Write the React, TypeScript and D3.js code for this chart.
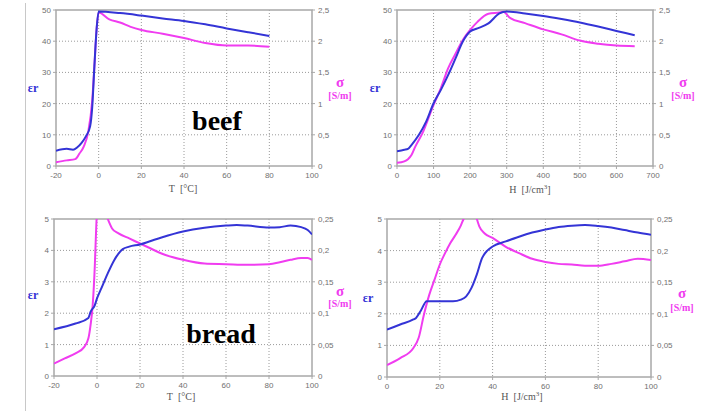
import * as d3 from 'd3';

// beef, temperature axis
const beefT = [-20, -15, -12, -10, -8, -6, -4, -3, -2, -1, 0, 10, 20, 30, 40, 50, 60, 70, 80];
const beefTEps = [4.9, 5.5, 5.2, 6, 7.4, 9.5, 12.7, 19, 32, 43.6, 49.5, 49, 48.2, 47.3, 46.5, 45.4, 44.1, 42.9, 41.7];
const beefTSigT = [-20, -15, -11, -9, -7, -5, -3, -2, -1, 0, 5, 10, 15, 20, 30, 40, 50, 60, 70, 80];
const beefTSig = [0.06, 0.09, 0.11, 0.2, 0.31, 0.53, 1.06, 1.6, 2.18, 2.46, 2.35, 2.3, 2.23, 2.18, 2.12, 2.05, 1.97, 1.93, 1.93, 1.91];

// beef, enthalpy axis
const beefH = [0, 20, 30, 40, 60, 80, 100, 120, 140, 160, 180, 200, 220, 250, 280, 300, 350, 400, 450, 500, 550, 600, 650];
const beefHEps = [4.7, 5.2, 5.5, 6.8, 10, 14.3, 20.1, 24.4, 29.2, 34.5, 39.9, 43.1, 44.1, 45.7, 48.9, 49.5, 48.9, 48.1, 47.1, 46, 44.7, 43.3, 41.9];
const beefHSigH = [0, 20, 30, 40, 50, 70, 100, 120, 140, 160, 180, 200, 220, 250, 280, 290, 310, 350, 400, 450, 500, 550, 600, 650];
const beefHSig = [0.05, 0.075, 0.11, 0.18, 0.31, 0.53, 0.98, 1.25, 1.57, 1.8, 2.02, 2.18, 2.31, 2.44, 2.46, 2.47, 2.37, 2.29, 2.19, 2.11, 2.01, 1.96, 1.93, 1.92];

// bread, temperature axis
const breadT = [-20, -10, -4, -3, -1, 0, 2, 5, 8, 10, 12, 15, 20, 25, 30, 40, 50, 60, 65, 70, 80, 85, 90, 95, 98, 100];
const breadTEps = [1.49, 1.67, 1.85, 2.04, 2.26, 2.47, 2.79, 3.27, 3.69, 3.9, 4.04, 4.12, 4.19, 4.3, 4.41, 4.6, 4.72, 4.79, 4.81, 4.79, 4.73, 4.74, 4.79, 4.74, 4.65, 4.51];
const breadTSigT = [-20, -15, -10, -6, -4, -3, -2, -1, -0.5, 0, 2, 5, 7, 10, 15, 20, 25, 30, 40, 50, 60, 70, 80, 85, 90, 95, 98, 100];
const breadTSig = [0.0197, 0.028, 0.036, 0.046, 0.06, 0.081, 0.113, 0.177, 0.224, 0.26, 0.28, 0.25, 0.235, 0.227, 0.219, 0.211, 0.203, 0.195, 0.185, 0.179, 0.178, 0.177, 0.178, 0.181, 0.185, 0.188, 0.188, 0.185];

// bread, enthalpy axis
const breadH = [0, 5, 10, 11, 13, 15, 20, 25, 28, 30, 32, 34, 36, 38, 40, 45, 50, 55, 60, 65, 70, 75, 80, 85, 90, 95, 100];
const breadHEps = [1.5, 1.66, 1.82, 1.87, 2.13, 2.4, 2.4, 2.4, 2.45, 2.55, 2.82, 3.24, 3.76, 4, 4.13, 4.29, 4.44, 4.57, 4.67, 4.75, 4.79, 4.81, 4.78, 4.73, 4.65, 4.57, 4.5];
const breadHSigH = [0, 5, 10, 12, 14, 16, 18, 20, 22, 24, 26, 28, 29, 31.5, 34, 35, 37, 40, 45, 50, 55, 60, 65, 70, 75, 80, 85, 90, 95, 100];
const breadHSig = [0.019, 0.03, 0.046, 0.062, 0.099, 0.13, 0.154, 0.178, 0.196, 0.212, 0.225, 0.24, 0.25, 0.27, 0.25, 0.238, 0.227, 0.22, 0.206, 0.196, 0.187, 0.182, 0.179, 0.178, 0.176, 0.176, 0.179, 0.183, 0.187, 0.185];

const beefTTicks = [-20, 0, 20, 40, 60, 80, 100];
const beefHTicks = [0, 100, 200, 300, 400, 500, 600, 700];
const breadTTicks = [-20, 0, 20, 40, 60, 80, 100];
const breadHTicks = [0, 20, 40, 60, 80, 100];
const beefEpsTicks = [0, 10, 20, 30, 40, 50];
const beefSigTicks = [0, 0.5, 1, 1.5, 2, 2.5];
const breadEpsTicks = [0, 1, 2, 3, 4, 5];
const breadSigTicks = [0, 0.05, 0.1, 0.15, 0.2, 0.25];

const BLUE = '#3434d6';
const MAGENTA = '#f03cf0';
const GRID = '#9a9a9a';
const FRAME = '#a8a8a8';
const TICK_TXT = '#707070';

const comma = (v: number) => String(v).replace('.', ',');

type PanelProps = {
  id: string;
  box: { l: number; r: number; t: number; b: number };
  xDomain: [number, number];
  xTicks: number[];
  epsMax: number;
  epsTicks: number[];
  sigMax: number;
  sigTicks: number[];
  epsX: number[];
  eps: number[];
  sigX: number[];
  sig: number[];
  xTitle: 'T' | 'H';
  titlePos: [number, number];
  epsPos: [number, number];
  sigPos: [number, number, number];
  name?: string;
  namePos?: [number, number];
};

function Panel(p: PanelProps) {
  const { l, r, t, b } = p.box;
  const x = d3.scaleLinear().domain(p.xDomain).range([l, r]);
  const yE = d3.scaleLinear().domain([0, p.epsMax]).range([b, t]);
  const yS = d3.scaleLinear().domain([0, p.sigMax]).range([b, t]);

  const lineE = d3.line<number>()
    .x((_, i) => x(p.epsX[i]))
    .y(d => yE(d))
    .curve(d3.curveMonotoneX);
  const lineS = d3.line<number>()
    .x((_, i) => x(p.sigX[i]))
    .y(d => yS(d))
    .curve(d3.curveMonotoneX);

  return (
    <g>
      <defs>
        <clipPath id={`clip-${p.id}`}>
          <rect x={l} y={t} width={r - l} height={b - t} />
        </clipPath>
      </defs>
      {/* grid */}
      {p.epsTicks.slice(1, -1).map(v => (
        <line key={'h' + v} x1={l} x2={r} y1={yE(v)} y2={yE(v)} stroke={GRID} strokeWidth={1} strokeDasharray="1,2" />
      ))}
      {p.xTicks.slice(1, -1).map(v => (
        <line key={'v' + v} x1={x(v)} x2={x(v)} y1={t} y2={b} stroke={GRID} strokeWidth={1} strokeDasharray="1,2" />
      ))}
      <rect x={l} y={t} width={r - l} height={b - t} fill="none" stroke={FRAME} strokeWidth={1.5} />

      {/* ticks */}
      {p.epsTicks.map(v => (
        <g key={'le' + v}>
          <line x1={l - 3} x2={l} y1={yE(v)} y2={yE(v)} stroke={FRAME} />
          <text x={l - 5} y={yE(v) + 3} textAnchor="end" fontSize={8} fill={TICK_TXT} fontFamily="Arial, Liberation Sans, sans-serif">{v}</text>
        </g>
      ))}
      {p.sigTicks.map(v => (
        <g key={'rs' + v}>
          <line x1={r} x2={r + 3} y1={yS(v)} y2={yS(v)} stroke={FRAME} />
          <text x={r + 6} y={yS(v) + 3} textAnchor="start" fontSize={8} fill={TICK_TXT} fontFamily="Arial, Liberation Sans, sans-serif">{comma(v)}</text>
        </g>
      ))}
      {p.xTicks.map(v => (
        <g key={'bx' + v}>
          <line x1={x(v)} x2={x(v)} y1={b} y2={b + 3} stroke={FRAME} />
          <text x={x(v)} y={b + 12} textAnchor="middle" fontSize={8} fill={TICK_TXT} fontFamily="Arial, Liberation Sans, sans-serif">{v}</text>
        </g>
      ))}

      {/* curves */}
      <g clipPath={`url(#clip-${p.id})`}>
        <path d={lineS(p.sig) || ''} fill="none" stroke={MAGENTA} strokeWidth={2} />
        <path d={lineE(p.eps) || ''} fill="none" stroke={BLUE} strokeWidth={2} />
      </g>

      {/* labels */}
      <text x={p.titlePos[0]} y={p.titlePos[1]} textAnchor="middle" fontSize={10} fill="#555" fontFamily="Liberation Serif, Times New Roman, serif">
        {p.xTitle === 'T' ? <>T&#160;&#160;[°C]</> : <>H&#160;&#160;[J/cm<tspan fontSize={7} dy={-4}>3</tspan><tspan dy={4}>]</tspan></>}
      </text>
      <text x={p.epsPos[0]} y={p.epsPos[1]} textAnchor="middle" fontSize={12} fontWeight="bold" fill={BLUE} fontFamily="Liberation Serif, Times New Roman, serif">εr</text>
      <text x={p.sigPos[0]} y={p.sigPos[1]} textAnchor="middle" fontSize={15} fontWeight="bold" fill={MAGENTA} fontFamily="Liberation Serif, Times New Roman, serif">σ</text>
      <text x={p.sigPos[0]} y={p.sigPos[2]} textAnchor="middle" fontSize={10} fontWeight="bold" fill={MAGENTA} fontFamily="Liberation Serif, Times New Roman, serif">[S/m]</text>
      {p.name && p.namePos && (
        <text x={p.namePos[0]} y={p.namePos[1]} textAnchor="middle" fontSize={28} fontWeight="bold" fill="#000" fontFamily="Liberation Serif, Times New Roman, serif">{p.name}</text>
      )}
    </g>
  );
}

export default function App() {
  return (
    <svg width={707} height={411} style={{ position: 'absolute', left: 0, top: 0, background: '#fff' }}>
      <line x1={25.5} x2={25.5} y1={3} y2={411} stroke="#c8c8c8" strokeWidth={1} />
      <Panel
        id="p1"
        box={{ l: 56, r: 312, t: 10, b: 166 }}
        xDomain={[-20, 100]}
        xTicks={beefTTicks}
        epsMax={50}
        epsTicks={beefEpsTicks}
        sigMax={2.5}
        sigTicks={beefSigTicks}
        epsX={beefT}
        eps={beefTEps}
        sigX={beefTSigT}
        sig={beefTSig}
        xTitle="T"
        titlePos={[183, 192]}
        epsPos={[33, 92]}
        sigPos={[340, 87, 99]}
        name="beef"
        namePos={[217, 130]}
      />
      <Panel
        id="p2"
        box={{ l: 397, r: 653, t: 10, b: 166 }}
        xDomain={[0, 700]}
        xTicks={beefHTicks}
        epsMax={50}
        epsTicks={beefEpsTicks}
        sigMax={2.5}
        sigTicks={beefSigTicks}
        epsX={beefH}
        eps={beefHEps}
        sigX={beefHSigH}
        sig={beefHSig}
        xTitle="H"
        titlePos={[530, 193]}
        epsPos={[375, 92]}
        sigPos={[683, 87, 99]}
      />
      <Panel
        id="p3"
        box={{ l: 54, r: 312, t: 219, b: 376 }}
        xDomain={[-20, 100]}
        xTicks={breadTTicks}
        epsMax={5}
        epsTicks={breadEpsTicks}
        sigMax={0.25}
        sigTicks={breadSigTicks}
        epsX={breadT}
        eps={breadTEps}
        sigX={breadTSigT}
        sig={breadTSig}
        xTitle="T"
        titlePos={[181, 400]}
        epsPos={[33, 299]}
        sigPos={[340, 296, 307]}
        name="bread"
        namePos={[221, 343]}
      />
      <Panel
        id="p4"
        box={{ l: 387, r: 651, t: 219, b: 377 }}
        xDomain={[0, 100]}
        xTicks={breadHTicks}
        epsMax={5}
        epsTicks={breadEpsTicks}
        sigMax={0.25}
        sigTicks={breadSigTicks}
        epsX={breadH}
        eps={breadHEps}
        sigX={breadHSigH}
        sig={breadHSig}
        xTitle="H"
        titlePos={[522, 400]}
        epsPos={[368, 302]}
        sigPos={[682, 298, 311]}
      />
    </svg>
  );
}
